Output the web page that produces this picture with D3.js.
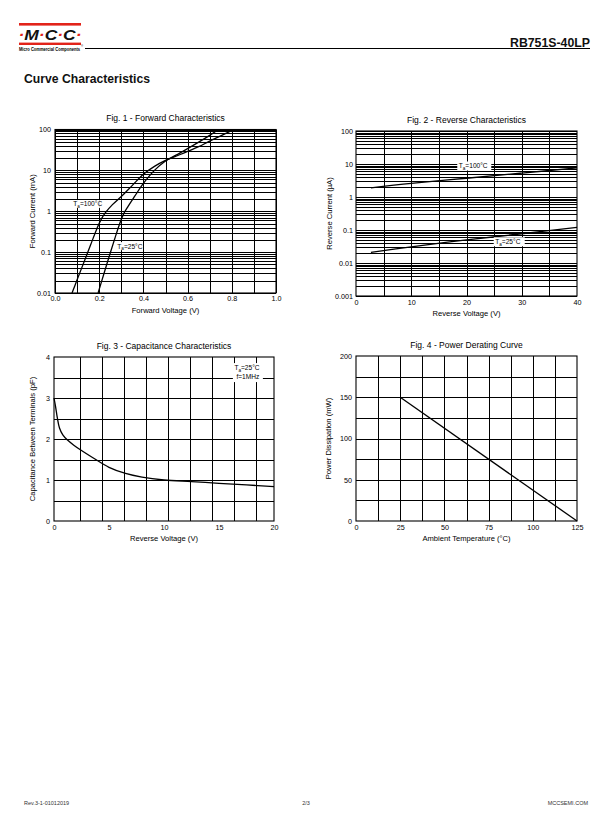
<!DOCTYPE html>
<html>
<head>
  <meta charset="utf-8" />
  <title>RB751S-40LP curve characteristics</title>
  <script src="https://cdn.jsdelivr.net/npm/d3@7"></script>
  <style>
    body { margin: 0; background: #fff; }
    svg { display: block; font-family: "Liberation Sans", Arial, sans-serif; }
  </style>
</head>
<body>
  <div id="page"></div>
  <script type="text/javascript">

    // Fig. 1 - forward characteristics (V, mA)
    var fwd100V = [0.077, 0.10, 0.13, 0.16, 0.19, 0.21, 0.23, 0.26, 0.30, 0.35, 0.40, 0.45, 0.50, 0.55, 0.60, 0.65, 0.70, 0.75, 0.81];
    var fwd100I = [0.01, 0.021, 0.055, 0.145, 0.38, 0.65, 0.95, 1.45, 2.3, 4.3, 8.0, 12.5, 17.5, 22.5, 29, 38, 52, 70, 100];
    var fwd25V = [0.195, 0.22, 0.25, 0.27, 0.29, 0.31, 0.33, 0.36, 0.40, 0.45, 0.50, 0.55, 0.60, 0.65, 0.70, 0.74];
    var fwd25I = [0.01, 0.028, 0.095, 0.21, 0.45, 0.85, 1.3, 2.3, 4.8, 10, 17, 24, 34, 49, 72, 100];
    var fwdXTicks = [0, 0.2, 0.4, 0.6, 0.8, 1.0];
    var fwdXLabels = ["0.0", "0.2", "0.4", "0.6", "0.8", "1.0"];
    var fwdYTicks = [0.01, 0.1, 1, 10, 100];
    var fwdYLabels = ["0.01", "0.1", "1", "10", "100"];

    // Fig. 2 - reverse characteristics (V, uA)
    var rev100V = [2.7, 10, 20, 30, 40];
    var rev100I = [1.9, 2.6, 3.7, 5.3, 7.6];
    var rev25V = [2.7, 10, 20, 30, 40];
    var rev25I = [0.021, 0.031, 0.05, 0.077, 0.12];
    var revXTicks = [0, 10, 20, 30, 40];
    var revYTicks = [0.001, 0.01, 0.1, 1, 10, 100];
    var revYLabels = ["0.001", "0.01", "0.1", "1", "10", "100"];

    // Fig. 3 - capacitance (V, pF)
    var capV = [0, 0.15, 0.3, 0.5, 0.8, 1.2, 1.8, 2.5, 3.5, 5, 6.5, 8, 10, 12.5, 15, 17.5, 20];
    var capC = [3.0, 2.78, 2.52, 2.27, 2.1, 1.98, 1.85, 1.72, 1.55, 1.31, 1.16, 1.07, 1.00, 0.96, 0.92, 0.88, 0.84];
    var capXTicks = [0, 5, 10, 15, 20];
    var capYTicks = [0, 1, 2, 3, 4];
    var capXGrid = [2.4, 4.4, 6.4, 8.4, 10.4, 12.4, 14.4, 16.4, 18.4];
    var capYGrid = [0.5, 1, 1.5, 2, 2.5, 3, 3.5];

    // Fig. 4 - power derating (degC, mW)
    var derT = [25, 125];
    var derP = [150, 0];
    var derXTicks = [0, 25, 50, 75, 100, 125];
    var derYTicks = [0, 50, 100, 150, 200];
    var derXGrid = [12.5, 25, 37.5, 50, 62.5, 75, 87.5, 100, 112.5];
    var derYGrid = [25, 50, 75, 100, 125, 150, 175];

    var W = 612, H = 825;
    var svg = d3.select("#page").append("svg")
      .attr("width", W).attr("height", H);
    svg.append("rect").attr("width", W).attr("height", H).attr("fill", "#fff");

    /* header */
    var red = "#e2231a";
    svg.append("rect").attr("x", 19).attr("y", 23).attr("width", 62).attr("height", 2.6).attr("fill", red);
    svg.append("rect").attr("x", 19).attr("y", 42.6).attr("width", 62).attr("height", 2.4).attr("fill", red);
    var logo = svg.append("text").attr("x", 18.5).attr("y", 40)
      .attr("font-size", 14.5).attr("font-weight", "bold").attr("font-style", "italic")
      .attr("textLength", 63).attr("lengthAdjust", "spacingAndGlyphs");
    ["\u00b7", "M", "\u00b7", "C", "\u00b7", "C", "\u00b7"].forEach(function (c, i) {
      logo.append("tspan").attr("fill", i % 2 ? "#111" : red).text(c);
    });
    svg.append("text").attr("x", 19).attr("y", 50.5).attr("font-size", 4.6).attr("font-weight", "bold")
      .attr("textLength", 61).attr("lengthAdjust", "spacingAndGlyphs").text("Micro Commercial Components");
    svg.append("text").attr("x", 81).attr("y", 46.5).attr("font-size", 3).text("\u00ae");
    svg.append("line").attr("x1", 85).attr("x2", 590).attr("y1", 48.5).attr("y2", 48.5)
      .attr("stroke", "#000").attr("stroke-width", 1);
    svg.append("text").attr("x", 590).attr("y", 47).attr("text-anchor", "end")
      .attr("font-size", 13).attr("font-weight", "bold").attr("fill", "#111")
      .attr("textLength", 80).attr("lengthAdjust", "spacingAndGlyphs").text("RB751S-40LP");
    svg.append("text").attr("x", 24).attr("y", 83).attr("font-size", 13).attr("font-weight", "bold")
      .attr("fill", "#111").attr("textLength", 126).attr("lengthAdjust", "spacingAndGlyphs")
      .text("Curve Characteristics");

    /* footer */
    var foot = [[24, "start", "Rev.3-1-01012019"], [306, "middle", "2/3"], [588, "end", "MCCSEMI.COM"]];
    foot.forEach(function (f) {
      svg.append("text").attr("x", f[0]).attr("y", 805).attr("text-anchor", f[1])
        .attr("font-size", 5.5).attr("fill", "#333").text(f[2]);
    });

    function tLabel(sel, rest) {
      sel.append("tspan").text("T");
      sel.append("tspan").attr("font-size", "0.7em").attr("dy", 1.5).text("a");
      sel.append("tspan").attr("dy", -1.5).text(rest);
    }

    function chart(o) {
      var g = svg.append("g");
      var x = d3.scaleLinear().domain(o.xDomain).range([o.left, o.right]);
      var y = (o.log ? d3.scaleLog() : d3.scaleLinear()).domain(o.yDomain).range([o.bottom, o.top]);

      // grid
      g.append("g").selectAll("line").data(o.yGrid).join("line")
        .attr("x1", o.left).attr("x2", o.right)
        .attr("y1", function (d) { return Math.round(y(d)) + 0.5; })
        .attr("y2", function (d) { return Math.round(y(d)) + 0.5; })
        .attr("stroke", "#000").attr("stroke-width", 1);
      g.append("g").selectAll("line").data(o.xGrid).join("line")
        .attr("y1", o.top).attr("y2", o.bottom)
        .attr("x1", function (d) { return Math.round(x(d)) + 0.5; })
        .attr("x2", function (d) { return Math.round(x(d)) + 0.5; })
        .attr("stroke", "#000").attr("stroke-width", 1);
      g.append("rect").attr("x", o.left).attr("y", o.top)
        .attr("width", o.right - o.left).attr("height", o.bottom - o.top)
        .attr("fill", "none").attr("stroke", "#000").attr("stroke-width", 1.1);

      // curves
      var line = d3.line()
        .x(function (d) { return x(d[0]); })
        .y(function (d) { return y(d[1]); })
        .curve(d3.curveCatmullRom.alpha(0.5));
      o.series.forEach(function (s) {
        g.append("path").datum(d3.zip(s[0], s[1])).attr("d", line)
          .attr("fill", "none").attr("stroke", "#000").attr("stroke-width", 1.3);
      });

      // labels on plot
      (o.notes || []).forEach(function (n) {
        var px = x(n.x), py = y(n.y);
        g.append("rect").attr("x", px - 1.5).attr("y", py - n.h / 2)
          .attr("width", n.w).attr("height", n.h).attr("fill", "#fff");
        n.lines.forEach(function (l, i) {
          var t = g.append("text").attr("x", px + (l.dx || 0)).attr("y", py + 2.4 + (i - (n.lines.length - 1) / 2) * 9)
            .attr("font-size", 6.6).attr("fill", "#000");
          if (l.t) tLabel(t, l.t); else t.text(l.s);
        });
      });

      // axes
      var ax = g.append("g").attr("transform", "translate(0," + o.bottom + ")")
        .call(d3.axisBottom(x).tickValues(o.xTicks).tickSize(0).tickPadding(o.xPad || 3.5)
          .tickFormat(function (d, i) { return o.xLabels ? o.xLabels[i] : d; }));
      var ay = g.append("g").attr("transform", "translate(" + o.left + ",0)")
        .call(d3.axisLeft(y).tickValues(o.yTicks).tickSize(0).tickPadding(o.yPad || 4)
          .tickFormat(function (d, i) { return o.yLabels ? o.yLabels[i] : d; }));
      [ax, ay].forEach(function (a) {
        a.select(".domain").remove();
        a.selectAll("text").attr("font-size", 7.2).attr("font-family", "Liberation Sans, Arial, sans-serif").attr("fill", "#000");
      });

      var cx = (o.left + o.right) / 2, cy = (o.top + o.bottom) / 2;
      g.append("text").attr("x", cx).attr("y", o.top - 8.5).attr("text-anchor", "middle")
        .attr("font-size", 8.5).attr("fill", "#000").text(o.title);
      g.append("text").attr("x", cx).attr("y", o.bottom + 19.5).attr("text-anchor", "middle")
        .attr("font-size", 7.6).attr("fill", "#000").text(o.xTitle);
      g.append("text").attr("transform", "translate(" + (o.left - o.yTitleOff) + "," + cy + ") rotate(-90)")
        .attr("text-anchor", "middle").attr("font-size", 7.6).attr("fill", "#000").text(o.yTitle);
    }

    var fx = d3.scaleLinear().domain([0, 1]);
    chart({
      title: "Fig. 1 - Forward Characteristics", xTitle: "Forward Voltage (V)", yTitle: "Forward Current (mA)",
      left: 55, right: 276, top: 129.5, bottom: 293, yTitleOff: 20,
      xDomain: [0, 1], yDomain: [0.01, 100], log: true,
      xGrid: fx.ticks(10), yGrid: d3.scaleLog().domain([0.01, 100]).ticks(),
      xTicks: fwdXTicks, xLabels: fwdXLabels, yTicks: fwdYTicks, yLabels: fwdYLabels, xPad: 3,
      series: [[fwd100V, fwd100I], [fwd25V, fwd25I]],
      notes: [
        { x: 0.083, y: 1.5, w: 28, h: 8, lines: [{ t: "=100\u00b0C" }] },
        { x: 0.282, y: 0.14, w: 27, h: 8, lines: [{ t: "=25\u00b0C" }] }
      ]
    });

    chart({
      title: "Fig. 2 - Reverse Characteristics", xTitle: "Reverse Voltage (V)", yTitle: "Reverse Current (\u00b5A)",
      left: 356, right: 577, top: 131, bottom: 296, yTitleOff: 24,
      xDomain: [0, 40], yDomain: [0.001, 100], log: true,
      xGrid: d3.range(5, 40, 5), yGrid: d3.scaleLog().domain([0.001, 100]).ticks(),
      xTicks: revXTicks, yTicks: revYTicks, yLabels: revYLabels, yPad: 3,
      series: [[rev100V, rev100I], [rev25V, rev25I]],
      notes: [
        { x: 18.6, y: 8.7, w: 34, h: 9, lines: [{ t: "=100\u00b0C" }] },
        { x: 25.2, y: 0.044, w: 31, h: 9, lines: [{ t: "=25\u00b0C" }] }
      ]
    });

    chart({
      title: "Fig. 3 - Capacitance Characteristics", xTitle: "Reverse Voltage (V)", yTitle: "Capacitance Between Terminals (pF)",
      left: 54, right: 274, top: 357, bottom: 521, yTitleOff: 19,
      xDomain: [0, 20], yDomain: [0, 4],
      xGrid: capXGrid, yGrid: capYGrid,
      xTicks: capXTicks, yTicks: capYTicks,
      series: [[capV, capC]],
      notes: [
        { x: 16.4, y: 3.62, w: 30, h: 19, lines: [{ t: "=25\u00b0C" }, { s: "f=1MHz", dx: 2 }] }
      ]
    });

    chart({
      title: "Fig. 4 - Power Derating Curve", xTitle: "Ambient Temperature (\u00b0C)", yTitle: "Power Dissipation (mW)",
      left: 356, right: 577, top: 356, bottom: 521, yTitleOff: 25,
      xDomain: [0, 125], yDomain: [0, 200],
      xGrid: derXGrid, yGrid: derYGrid,
      xTicks: derXTicks, yTicks: derYTicks,
      series: [[derT, derP]]
    });
  </script>
</body>
</html>
